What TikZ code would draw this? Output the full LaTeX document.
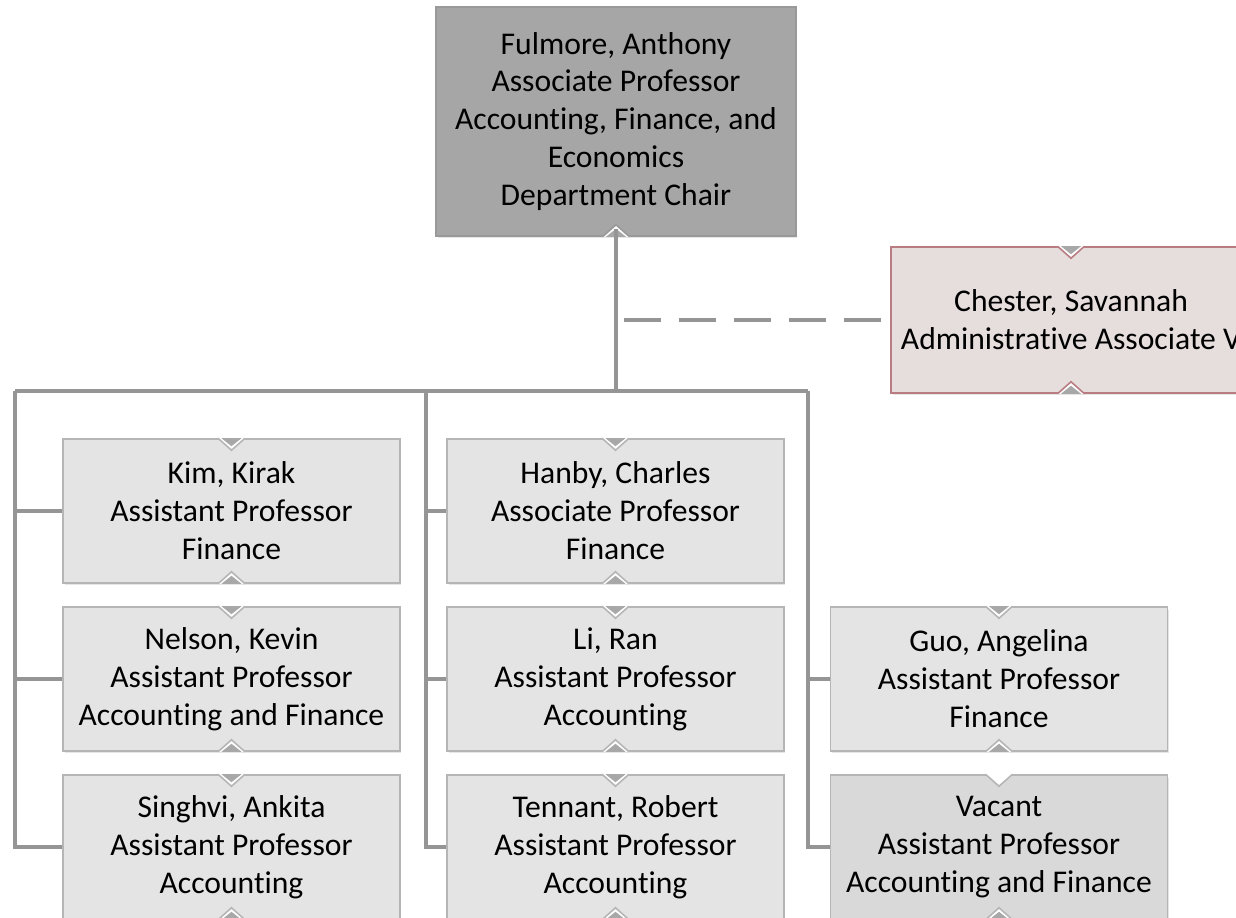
\documentclass[tikz,border=0pt]{standalone}
\usepackage{fontspec}
\setmainfont{Carlito}[Ligatures=NoCommon]
\usetikzlibrary{shadows}
\definecolor{linegray}{HTML}{959595}
\definecolor{boxfill}{HTML}{E4E4E4}
\definecolor{boxline}{HTML}{B5B5B5}
\definecolor{chairfill}{HTML}{A6A6A6}
\definecolor{chairline}{HTML}{999999}
\definecolor{vacfill}{HTML}{D9D9D9}
\definecolor{adminfill}{HTML}{E6DDDD}
\definecolor{adminline}{HTML}{B87C82}
\definecolor{notchgray}{HTML}{A8A8A8}

\begin{document}
\begin{tikzpicture}[x=.02cm,y=-.02cm,
  conn/.style={draw=linegray,line width=.08cm},
  card/.style={draw=boxline,fill=boxfill,line width=.9pt,align=center,inner sep=0pt,
    font=\fontsize{18}{21.6}\selectfont,
    drop shadow={opacity=.2,shadow xshift=.03cm,shadow yshift=-.05cm}},
  person/.style={card,minimum width=6.74cm,minimum height=2.88cm},
  chair/.style={card,fill=chairfill,draw=chairline,minimum width=7.2cm,minimum height=4.58cm},
  admin/.style={card,fill=adminfill,draw=adminline,minimum width=7.2cm,minimum height=2.92cm}]
\useasboundingbox (0,0) rectangle (1236,918);
\clip (0,0) rectangle (1236,918);

% bus
\coordinate (c1) at (15,391);
\coordinate (c2) at (426,391);
\coordinate (c3) at (808,391);

% boxes
\node[chair] (fulmore) at (616,121.5) {Fulmore, Anthony\\Associate Professor\\Accounting, Finance, and\\Economics\\Department Chair};
\node[admin] (chester) at (1071,320) {Chester, Savannah\\Administrative Associate V};

\node[person] (kim) at (231.5,511) {Kim, Kirak\\Assistant Professor\\Finance};
\node[person] (nelson) at (231.5,679) {Nelson, Kevin\\Assistant Professor\\Accounting and Finance};
\node[person] (singhvi) at (231.5,847) {Singhvi, Ankita\\Assistant Professor\\Accounting};
\node[person] (hanby) at (615.5,511) {Hanby, Charles\\Associate Professor\\Finance};
\node[person] (li) at (615.5,679) {Li, Ran\\Assistant Professor\\Accounting};
\node[person] (tennant) at (615.5,847) {Tennant, Robert\\Assistant Professor\\Accounting};
\node[person] (guo) at (999,679) {Guo, Angelina\\Assistant Professor\\Finance};
\node[person,fill=vacfill] (vacant) at (999,847) {Vacant\\Assistant Professor\\Accounting and Finance};

% connectors
\draw[conn] (fulmore.south) -- (fulmore.south |- c1);
\draw[conn] (c1) -- (c3);
\draw[conn,dash pattern=on .74cm off .36cm] ([xshift=.16cm]fulmore.south |- chester.west) -- (chester.west);
\draw[conn] (c1) |- (singhvi.west);
\draw[conn] (c1 |- kim.west) -- (kim.west);
\draw[conn] (c1 |- nelson.west) -- (nelson.west);
\draw[conn] (c2) |- (tennant.west);
\draw[conn] (c2 |- hanby.west) -- (hanby.west);
\draw[conn] (c2 |- li.west) -- (li.west);
\draw[conn] (c3) |- (vacant.west);
\draw[conn] (c3 |- guo.west) -- (guo.west);

% notches
\foreach \n/\c in {kim/boxline,nelson/boxline,singhvi/boxline,hanby/boxline,li/boxline,tennant/boxline,guo/boxline,vacant/boxline,chester/adminline}
{
  \fill[white] ([xshift=-.27cm]\n.north) -- ([yshift=-.24cm]\n.north) -- ([xshift=.27cm]\n.north) -- cycle;
  \draw[\c,line width=.9pt] ([xshift=-.27cm]\n.north) -- ([yshift=-.24cm]\n.north) -- ([xshift=.27cm]\n.north);
}
\foreach \n in {kim,nelson,singhvi,hanby,li,tennant,guo,chester}
  \fill[notchgray] ([xshift=-.2cm]\n.north) -- ([yshift=-.16cm]\n.north) -- ([xshift=.2cm]\n.north) -- cycle;
\foreach \n/\c in {kim/boxline,nelson/boxline,singhvi/boxline,hanby/boxline,li/boxline,tennant/boxline,guo/boxline,vacant/boxline,chester/adminline,fulmore/chairline}
{
  \fill[white] ([xshift=-.27cm]\n.south) -- ([yshift=.24cm]\n.south) -- ([xshift=.27cm]\n.south) -- cycle;
  \draw[\c,line width=.9pt] ([xshift=-.27cm]\n.south) -- ([yshift=.24cm]\n.south) -- ([xshift=.27cm]\n.south);
  \fill[notchgray] ([xshift=-.2cm]\n.south) -- ([yshift=.16cm]\n.south) -- ([xshift=.2cm]\n.south) -- cycle;
}
\draw[conn] (fulmore.south) -- ([yshift=.16cm]fulmore.south);
\end{tikzpicture}
\end{document}
